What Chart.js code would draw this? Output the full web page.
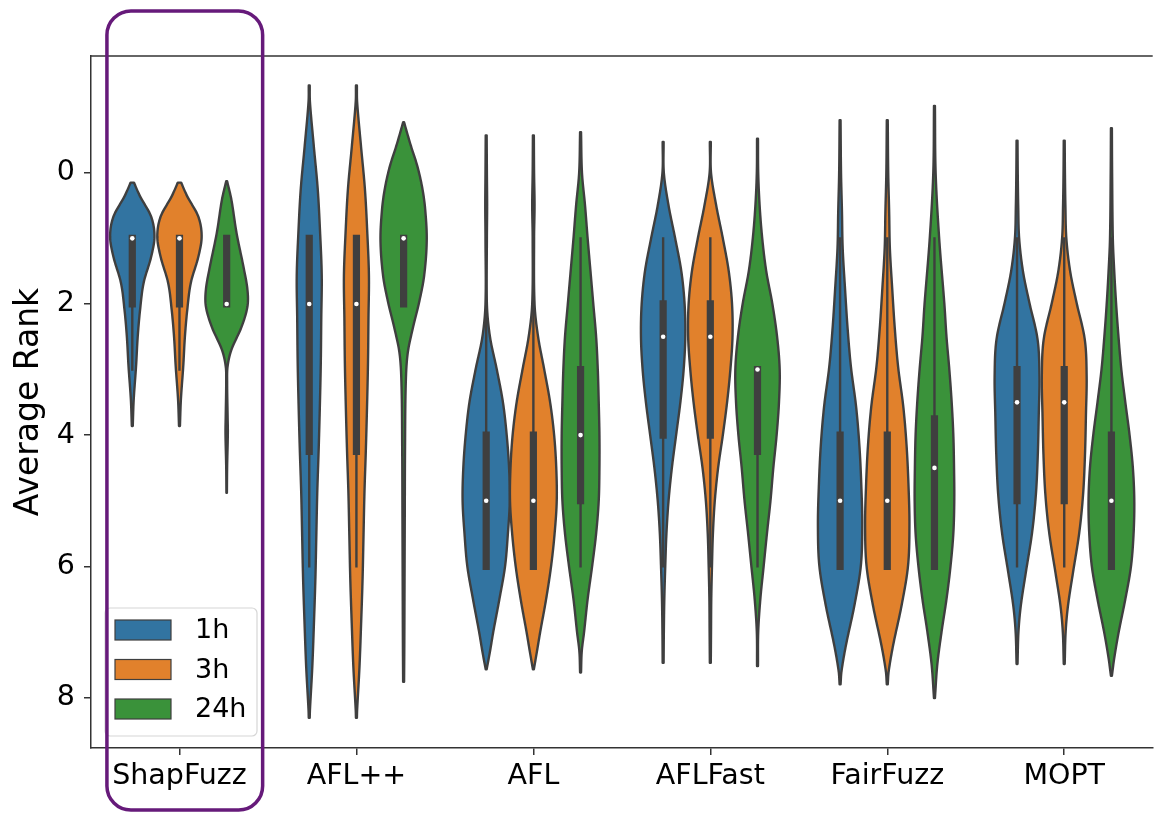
<!DOCTYPE html>
<html>
<head>
<meta charset="utf-8">
<script src="https://cdn.jsdelivr.net/npm/chart.js@4.4.1/dist/chart.umd.min.js"></script>
<style>
  html, body { margin: 0; padding: 0; background: #fff; }
  #wrap { width: 1155px; height: 813px; }
</style>
</head>
<body>
<div id="wrap"><canvas id="myChart" width="1155" height="813"></canvas></div>
<script>
//average rank of each fuzzer after 1h, 3h and 24h
const categories = ['ShapFuzz', 'AFL++', 'AFL', 'AFLFast', 'FairFuzz', 'MOPT'];
const hours = ['1h', '3h', '24h'];
const colors = ['#3274a1', '#e1812c', '#3a923a'];
const yTicks = [0, 2, 4, 6, 8];

// [low whisker, q1, median, q3, high whisker] per fuzzer
const box1h = [[1, 1, 1, 2, 3], [1, 1, 2, 4.25, 6], [1, 4, 5, 6, 6], [1, 2, 2.5, 4, 6], [1, 4, 5, 6, 6], [1, 3, 3.5, 5, 6]];
const box3h = [[1, 1, 1, 2, 3], [1, 1, 2, 4.25, 6], [1, 4, 5, 6, 6], [1, 2, 2.5, 4, 6], [1, 4, 5, 6, 6], [1, 3, 3.5, 5, 6]];
const box24h = [[1, 1, 2, 2, 2], [1, 1, 1, 2, 2], [1, 3, 4, 5, 6], [3, 3, 3, 4.25, 6], [1, 3.75, 4.5, 6, 6], [1, 4, 5, 6, 6]];

// violin outlines: [rank, relative width]
const kde1h = [
    [[0.15, 0.07], [0.36, 0.33], [0.67, 0.8], [0.97, 0.94], [1.28, 0.8], [1.68, 0.48], [2.09, 0.33], [2.5, 0.23], [2.95, 0.16], [3.46, 0.06], [3.86, 0.02]],
    [[-1.33, 0.02], [-1.08, 0.03], [-0.42, 0.19], [0.25, 0.36], [0.91, 0.46], [1.57, 0.53], [2.23, 0.51], [2.9, 0.49], [3.56, 0.45], [4.22, 0.4], [4.88, 0.34], [5.54, 0.3], [6.2, 0.26], [6.86, 0.2], [7.53, 0.13], [8.19, 0.03], [8.31, 0.02]],
    [[-0.57, 0.02], [0, 0.03], [0.5, 0.04], [1, 0.03], [2, 0.03], [2.5, 0.16], [3, 0.45], [3.5, 0.71], [4, 0.87], [4.5, 0.97], [5, 1.0], [5.5, 0.92], [6, 0.8], [6.5, 0.56], [7, 0.3], [7.3, 0.16], [7.57, 0.02]],
    [[-0.47, 0.02], [0, 0.03], [0.5, 0.23], [1, 0.51], [1.5, 0.77], [2, 0.91], [2.5, 0.94], [3, 0.87], [3.5, 0.73], [4, 0.55], [4.5, 0.37], [5, 0.23], [5.5, 0.14], [6, 0.09], [6.5, 0.05], [7, 0.03], [7.47, 0.02]],
    [[-0.8, 0.02], [0, 0.04], [0.6, 0.08], [1.15, 0.11], [1.77, 0.21], [2.38, 0.32], [2.96, 0.46], [3.57, 0.68], [4.17, 0.82], [4.77, 0.9], [5.38, 0.94], [5.99, 0.88], [6.59, 0.61], [7.2, 0.25], [7.6, 0.06], [7.8, 0.02]],
    [[-0.49, 0.02], [0, 0.03], [0.5, 0.05], [1, 0.09], [1.5, 0.25], [1.96, 0.51], [2.54, 0.87], [3.1, 0.95], [3.7, 0.92], [4.3, 0.88], [4.9, 0.8], [5.48, 0.64], [6.1, 0.37], [6.6, 0.16], [7, 0.06], [7.49, 0.02]]
];
const kde3h = [
    [[0.15, 0.07], [0.36, 0.33], [0.67, 0.8], [0.97, 0.94], [1.28, 0.8], [1.68, 0.48], [2.09, 0.33], [2.5, 0.23], [2.95, 0.16], [3.46, 0.06], [3.86, 0.02]],
    [[-1.33, 0.02], [-1.08, 0.03], [-0.42, 0.19], [0.25, 0.36], [0.91, 0.46], [1.57, 0.53], [2.23, 0.51], [2.9, 0.49], [3.56, 0.45], [4.22, 0.4], [4.88, 0.34], [5.54, 0.3], [6.2, 0.26], [6.86, 0.2], [7.53, 0.13], [8.19, 0.03], [8.31, 0.02]],
    [[-0.57, 0.02], [0, 0.03], [0.5, 0.05], [1, 0.03], [2, 0.05], [2.5, 0.2], [3, 0.46], [3.5, 0.71], [4, 0.88], [4.5, 0.97], [5, 0.99], [5.5, 0.9], [6, 0.75], [6.5, 0.54], [7, 0.29], [7.3, 0.15], [7.57, 0.02]],
    [[-0.47, 0.02], [0, 0.03], [0.5, 0.25], [1, 0.53], [1.5, 0.78], [2, 0.92], [2.5, 0.94], [3, 0.85], [3.5, 0.71], [4, 0.53], [4.5, 0.33], [5, 0.19], [5.5, 0.11], [6, 0.07], [6.5, 0.04], [7, 0.03], [7.47, 0.02]],
    [[-0.8, 0.02], [0, 0.04], [0.6, 0.08], [1.15, 0.11], [1.77, 0.21], [2.38, 0.32], [2.96, 0.46], [3.57, 0.68], [4.17, 0.82], [4.77, 0.9], [5.38, 0.94], [5.99, 0.88], [6.59, 0.61], [7.2, 0.25], [7.6, 0.06], [7.8, 0.02]],
    [[-0.49, 0.02], [0, 0.03], [0.5, 0.05], [1, 0.09], [1.5, 0.25], [1.96, 0.51], [2.54, 0.87], [3.1, 0.95], [3.7, 0.92], [4.3, 0.88], [4.9, 0.8], [5.48, 0.64], [6.1, 0.37], [6.6, 0.16], [7, 0.06], [7.49, 0.02]]
];
const kde24h = [
    [[0.13, 0.02], [0.41, 0.2], [0.92, 0.42], [1.43, 0.71], [1.78, 0.88], [2.04, 0.88], [2.35, 0.63], [2.7, 0.2], [2.95, 0.04], [3.2, 0.02], [3.71, 0.04], [3.97, 0.05], [4.48, 0.02], [4.88, 0.01]],
    [[-0.77, 0.02], [-0.68, 0.09], [-0.42, 0.3], [-0.09, 0.59], [0.25, 0.8], [0.58, 0.92], [1.04, 0.98], [1.57, 0.87], [1.97, 0.66], [2.37, 0.39], [2.76, 0.17], [3.23, 0.09], [4.22, 0.06], [5.2, 0.05], [6.2, 0.04], [7.2, 0.03], [7.76, 0.02]],
    [[-0.62, 0.02], [0, 0.06], [0.5, 0.19], [1, 0.3], [1.5, 0.42], [2, 0.54], [2.5, 0.66], [3, 0.73], [3.5, 0.77], [4, 0.8], [4.5, 0.8], [5, 0.77], [5.5, 0.66], [6, 0.49], [6.5, 0.3], [7, 0.15], [7.3, 0.05], [7.62, 0.02]],
    [[-0.52, 0.02], [0, 0.03], [0.5, 0.09], [1, 0.2], [1.5, 0.37], [2, 0.63], [2.5, 0.83], [3, 0.94], [3.5, 0.91], [4, 0.81], [4.5, 0.67], [5, 0.55], [5.5, 0.4], [6, 0.26], [6.5, 0.12], [7, 0.03], [7.52, 0.02]],
    [[-1.02, 0.02], [0, 0.05], [1, 0.2], [2, 0.42], [2.5, 0.51], [3, 0.63], [3.5, 0.73], [4, 0.8], [4.5, 0.83], [5, 0.84], [5.5, 0.8], [6, 0.68], [6.5, 0.51], [7, 0.3], [7.5, 0.12], [8.01, 0.02]],
    [[-0.68, 0.02], [0, 0.03], [1, 0.06], [1.5, 0.12], [2, 0.2], [2.5, 0.3], [3, 0.42], [3.5, 0.59], [4, 0.77], [4.5, 0.91], [5, 0.97], [5.5, 0.94], [6, 0.83], [6.5, 0.59], [7, 0.31], [7.4, 0.12], [7.67, 0.02]]
];

const boxes = [box1h, box3h, box24h];
const kdes = [kde1h, kde3h, kde24h];
const slot = 0.8 / hours.length;
const gray = '#3f3f3f';
const font = 'DejaVu Sans';

// smooth the read-off outline (hermite through the points)
function smooth(points) {
    const out = [];
    const n = points.length;
    const slope = k => {
        const a = points[Math.max(k - 1, 0)], b = points[Math.min(k + 1, n - 1)];
        return (b[1] - a[1]) / (b[0] - a[0]);
    };
    for (let k = 0; k < n - 1; k++) {
        const [r0, d0] = points[k];
        const [r1, d1] = points[k + 1];
        const h = r1 - r0;
        const m0 = slope(k) * h, m1 = slope(k + 1) * h;
        const steps = Math.max(2, Math.ceil(h / 0.02));
        for (let s = 0; s < steps; s++) {
            const t = s / steps, t2 = t * t, t3 = t2 * t;
            const d = (2 * t3 - 3 * t2 + 1) * d0 + (t3 - 2 * t2 + t) * m0 + (-2 * t3 + 3 * t2) * d1 + (t3 - t2) * m1;
            out.push([r0 + t * h, Math.max(d, 0.005)]);
        }
    }
    out.push(points[n - 1]);
    return out;
}

const violinPlugin = {
    id: 'violins',
    beforeDatasetsDraw(chart) {
        const { ctx, chartArea, scales: { x, y } } = chart;
        const half = (x.getPixelForValue(1) - x.getPixelForValue(0)) * slot / 2;
        ctx.save();
        ctx.beginPath();
        ctx.rect(chartArea.left, chartArea.top, chartArea.right - chartArea.left, chartArea.bottom - chartArea.top);
        ctx.clip();
        categories.forEach((name, i) => {
            hours.forEach((h, j) => {
                const cx = x.getPixelForValue(i + (j - 1) * slot);
                const pts = smooth(kdes[j][i]);
                ctx.beginPath();
                pts.forEach(([r, d], k) => {
                    const py = y.getPixelForValue(r);
                    if (k) ctx.lineTo(cx + d * half, py); else ctx.moveTo(cx + d * half, py);
                });
                for (let k = pts.length - 1; k >= 0; k--) {
                    ctx.lineTo(cx - pts[k][1] * half, y.getPixelForValue(pts[k][0]));
                }
                ctx.closePath();
                ctx.fillStyle = colors[j];
                ctx.fill();
                ctx.lineJoin = 'round';
                ctx.lineWidth = 2.4;
                ctx.strokeStyle = gray;
                ctx.stroke();

                const [lo, q1, med, q3, hi] = boxes[j][i];
                ctx.lineCap = 'square';
                ctx.beginPath();
                ctx.moveTo(cx, y.getPixelForValue(lo));
                ctx.lineTo(cx, y.getPixelForValue(hi));
                ctx.lineWidth = 2.4;
                ctx.stroke();
                ctx.beginPath();
                ctx.moveTo(cx, y.getPixelForValue(q1));
                ctx.lineTo(cx, y.getPixelForValue(q3));
                ctx.lineWidth = 7.2;
                ctx.stroke();
                ctx.lineCap = 'butt';
            });
        });
        ctx.restore();
    },
    afterDraw(chart) {
        const { ctx, chartArea, scales: { x } } = chart;
        ctx.save();
        // top spine
        ctx.strokeStyle = '#333';
        ctx.lineWidth = 1.5;
        ctx.beginPath();
        ctx.moveTo(chartArea.left, chartArea.top);
        ctx.lineTo(chartArea.right, chartArea.top);
        ctx.stroke();

        // legend in the lower left corner
        const lx = chartArea.left + 14, ly = chartArea.bottom - 140;
        ctx.beginPath();
        ctx.roundRect(lx, ly, 152, 128, 5);
        ctx.fillStyle = 'rgba(255,255,255,0.8)';
        ctx.fill();
        ctx.strokeStyle = '#d6d6d6';
        ctx.lineWidth = 1.2;
        ctx.stroke();
        ctx.font = '27px "' + font + '"';
        ctx.textBaseline = 'middle';
        ctx.textAlign = 'left';
        hours.forEach((h, j) => {
            const top = ly + 12 + j * 39.5;
            ctx.fillStyle = colors[j];
            ctx.fillRect(lx + 10, top, 56, 20);
            ctx.strokeStyle = gray;
            ctx.lineWidth = 1.2;
            ctx.strokeRect(lx + 10, top, 56, 20);
            ctx.fillStyle = '#000';
            ctx.fillText(h, lx + 90, top + 11);
        });

        // highlight box round ShapFuzz
        const unit = x.getPixelForValue(1) - x.getPixelForValue(0);
        const c0 = x.getPixelForValue(0);
        ctx.beginPath();
        ctx.roundRect(c0 - 0.41 * unit, chartArea.top - 45, 0.88 * unit, 799, 24);
        ctx.strokeStyle = '#661a7a';
        ctx.lineWidth = 3.5;
        ctx.stroke();
        ctx.restore();
    }
};

const axisLine = { display: true, drawOnChartArea: false, drawTicks: true, tickLength: 7, color: '#333', lineWidth: 1.5 };

const ctx = document.getElementById('myChart');
const myChart = new Chart(ctx, {
    type: 'scatter',
    data: {
        datasets: hours.map((h, j) => ({
            label: h,
            data: boxes[j].map((b, i) => ({ x: i + (j - 1) * slot, y: b[2] })),
            pointRadius: 2.3,
            pointHoverRadius: 2.3,
            pointBackgroundColor: '#fff',
            pointBorderWidth: 0,
            backgroundColor: colors[j],
            borderColor: gray
        }))
    },
    options: {
        responsive: false,
        animation: false,
        devicePixelRatio: 1,
        layout: { padding: { top: 56, right: 0, left: 0, bottom: 0 } },
        plugins: {
            legend: { display: false },
            tooltip: { enabled: false }
        },
        scales: {
            x: {
                type: 'linear',
                min: -0.5,
                max: 5.5,
                afterBuildTicks: scale => { scale.ticks = categories.map((c, i) => ({ value: i })); },
                afterFit: scale => { scale.height = 65; },
                ticks: {
                    callback: v => categories[v],
                    font: { family: font, size: 28.5 },
                    color: '#000',
                    padding: 4,
                    autoSkip: false,
                    maxRotation: 0
                },
                grid: axisLine,
                border: { display: true, color: '#333', width: 1.5 }
            },
            y: {
                type: 'linear',
                reverse: true,
                min: -1.78,
                max: 8.77,
                afterBuildTicks: scale => { scale.ticks = yTicks.map(v => ({ value: v })); },
                afterFit: scale => { scale.width = 91; },
                ticks: {
                    font: { family: font, size: 28.5 },
                    color: '#000',
                    padding: 9
                },
                grid: axisLine,
                border: { display: true, color: '#333', width: 1.5 },
                title: {
                    display: true,
                    text: 'Average Rank',
                    font: { family: font, size: 33 },
                    color: '#000',
                    padding: { top: 10, bottom: 0 }
                }
            }
        }
    },
    plugins: [violinPlugin]
});
</script>
</body>
</html>
